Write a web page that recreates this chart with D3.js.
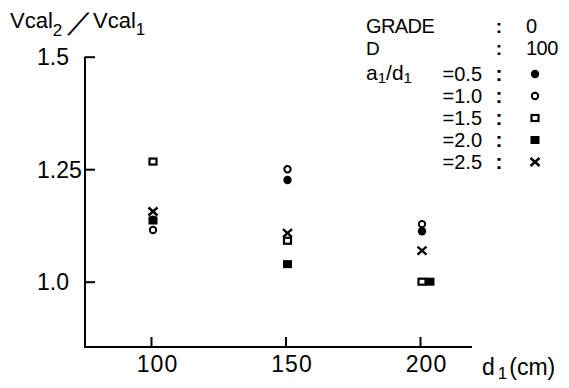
<!DOCTYPE html>
<html>
<head>
<meta charset="utf-8">
<script src="https://cdn.jsdelivr.net/npm/d3@7"></script>
<style>
  html, body { margin: 0; padding: 0; background: #fff; }
  svg { display: block; font-family: "Liberation Sans", Arial, sans-serif; }
</style>
</head>
<body>
<svg id="chart" width="569" height="388"></svg>
<script>
// ---- data ----
const distances = [100, 150, 200];              // d1 (cm)
const xTickLabels = ["100", "150", "200"];
const yTicks = [1.0, 1.25, 1.5];
const yTickLabels = ["1.0", "1.25", "1.5"];
const ratioLabels = ["=0.5", "=1.0", "=1.5", "=2.0", "=2.5"];   // a1/d1
const markerKinds = ["dot", "circle", "square", "filledSquare", "cross"];
const ratio05 = [1.138, 1.226, 1.112];
const ratio10 = [1.115, 1.250, 1.128];
const ratio15 = [1.267, 1.091, 1.000];
const ratio20 = [1.136, 1.039, 1.000];
const ratio25 = [1.156, 1.108, 1.069];
const seriesValues = [ratio05, ratio10, ratio15, ratio20, ratio25];
const gradeValue = "0";
const dValue = "100";

// ---- setup ----
const svg = d3.select("#chart");
svg.append("rect").attr("width", 569).attr("height", 388).attr("fill", "#fff");

const x = d3.scaleLinear().domain([100, 200]).range([151, 420]);
const y = d3.scaleLinear().domain([1.0, 1.5]).range([281.7, 56.7]);
const plotLeft = 85, plotRight = 472, plotBottom = 347;

// axes frame
svg.append("path")
  .attr("d", `M${plotLeft},${y(1.5)}V${plotBottom}H${plotRight}`)
  .attr("fill", "none").attr("stroke", "#000").attr("stroke-width", 2);

const yAxis = svg.append("g")
  .attr("transform", `translate(${plotLeft},0)`)
  .call(d3.axisLeft(y).tickValues(yTicks).tickSizeInner(-10).tickSizeOuter(0)
        .tickFormat((d, i) => yTickLabels[i]));
yAxis.select(".domain").remove();
yAxis.selectAll(".tick line").attr("stroke", "#000").attr("stroke-width", 2);
yAxis.selectAll(".tick text")
  .attr("x", 37 - plotLeft).attr("text-anchor", "start")
  .attr("font-size", 23).attr("font-family", "Liberation Sans, Arial, sans-serif")
  .attr("fill", "#000").attr("dy", "0.36em");

const xAxis = svg.append("g")
  .attr("transform", `translate(0,${plotBottom})`)
  .call(d3.axisBottom(x).tickValues(distances).tickSizeInner(-10).tickSizeOuter(0)
        .tickFormat((d, i) => xTickLabels[i]));
xAxis.select(".domain").remove();
xAxis.selectAll(".tick line").attr("stroke", "#000").attr("stroke-width", 2);
xAxis.selectAll(".tick text")
  .attr("y", 25).attr("dy", 0).attr("dx", 6)
  .attr("font-size", 23).attr("font-family", "Liberation Sans, Arial, sans-serif")
  .attr("fill", "#000").attr("letter-spacing", 1);

// x-axis title d1(cm)
const xt = svg.append("text").attr("x", 482).attr("y", 375)
  .attr("font-size", 23).attr("fill", "#000");
xt.append("tspan").text("d");
xt.append("tspan").attr("dx", 3).attr("dy", 4).attr("font-size", 17).text("1");
xt.append("tspan").attr("dx", 2).attr("dy", -4).text("(cm)");

// y-axis title Vcal2/Vcal1
const yt = svg.append("text").attr("x", 10).attr("y", 28).attr("font-size", 22).attr("fill", "#000");
yt.append("tspan").text("Vcal");
yt.append("tspan").attr("dy", 8).attr("font-size", 17).text("2");
svg.append("text").attr("transform", "translate(67,35) skewX(-32)")
  .attr("font-size", 31).attr("fill", "#000").text("/");
const yt2 = svg.append("text").attr("x", 93).attr("y", 28).attr("font-size", 22).attr("fill", "#000");
yt2.append("tspan").text("Vcal");
yt2.append("tspan").attr("dy", 7).attr("font-size", 17).text("1");

// ---- markers ----
function drawMarker(g, kind) {
  if (kind === "dot") {
    g.append("circle").attr("r", 4.2).attr("fill", "#000");
  } else if (kind === "circle") {
    g.append("circle").attr("r", 3.2).attr("fill", "none").attr("stroke", "#000").attr("stroke-width", 2);
  } else if (kind === "square") {
    g.append("rect").attr("x", -3.5).attr("y", -3).attr("width", 7).attr("height", 6)
      .attr("fill", "none").attr("stroke", "#000").attr("stroke-width", 2.2);
  } else if (kind === "filledSquare") {
    g.append("rect").attr("x", -4.5).attr("y", -4).attr("width", 9).attr("height", 8).attr("fill", "#000");
  } else if (kind === "cross") {
    g.append("path").attr("d", "M-4.5,-4L4.5,4M4.5,-4L-4.5,4")
      .attr("stroke", "#000").attr("stroke-width", 2.4).attr("fill", "none");
  }
}

// flatten points, dodge exact duplicates horizontally
const points = [];
seriesValues.forEach((vals, si) => {
  vals.forEach((v, di) => points.push({ d: distances[di], v, kind: markerKinds[si], si }));
});
const seen = {};
points.forEach(p => {
  const key = p.d + "_" + p.v.toFixed(3);
  seen[key] = (seen[key] || 0);
  p.dodge = seen[key] * 8;
  seen[key] += 1;
});
points.forEach(p => {
  const g = svg.append("g").attr("transform", `translate(${x(p.d) + 2 + p.dodge},${y(p.v)})`);
  drawMarker(g, p.kind);
});

// ---- legend ----
const lg = svg.append("g").attr("font-size", 19).attr("fill", "#000");
lg.append("text").attr("x", 366).attr("y", 33).attr("font-size", 20).attr("letter-spacing", -0.6).text("GRADE");
lg.append("text").attr("x", 366).attr("y", 55).text("D");
const ad = lg.append("text").attr("x", 366).attr("y", 80).attr("font-size", 21);
ad.append("tspan").text("a");
ad.append("tspan").attr("dy", 3).attr("font-size", 15).text("1");
ad.append("tspan").attr("dy", -3).text("/");
ad.append("tspan").text("d");
ad.append("tspan").attr("dy", 3).attr("font-size", 15).text("1");

const colonX = 499;
lg.append("text").attr("x", colonX).attr("y", 33).attr("text-anchor", "middle").attr("font-weight", "bold").text(":");
lg.append("text").attr("x", colonX).attr("y", 55).attr("text-anchor", "middle").attr("font-weight", "bold").text(":");
lg.append("text").attr("x", 526).attr("y", 33).attr("font-size", 20).text(gradeValue);
lg.append("text").attr("x", 526).attr("y", 55).attr("font-size", 20).attr("letter-spacing", -0.5).text(dValue);

const rowY = d3.scalePoint().domain(ratioLabels).range([81, 169]);
ratioLabels.forEach((lab, i) => {
  const yy = rowY(lab);
  lg.append("text").attr("x", 482).attr("y", yy).attr("text-anchor", "end").attr("font-size", 20).text(lab);
  lg.append("text").attr("x", colonX).attr("y", yy).attr("text-anchor", "middle").attr("font-weight", "bold").attr("font-size", 21).text(":");
  const g = svg.append("g").attr("transform", `translate(535,${yy - 7})`);
  drawMarker(g, markerKinds[i]);
});
</script>
</body>
</html>
